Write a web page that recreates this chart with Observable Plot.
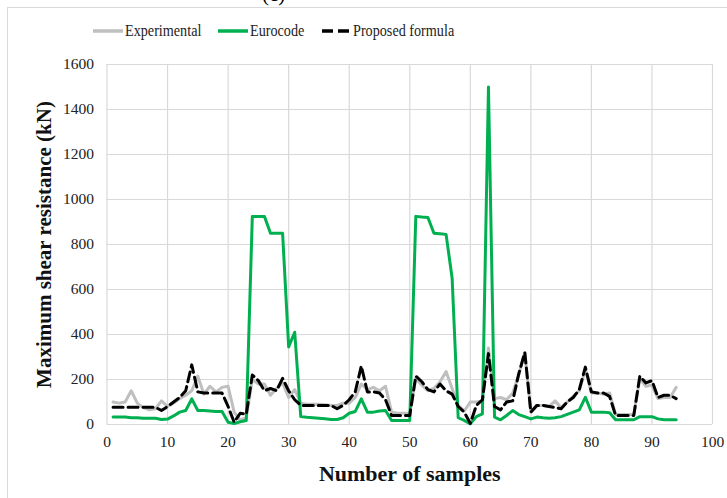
<!DOCTYPE html>
<html>
<head>
<meta charset="utf-8">
<script src="https://cdn.jsdelivr.net/npm/d3@7"></script>
<script src="https://cdn.jsdelivr.net/npm/@observablehq/plot@0.6"></script>
<style>
  html, body { margin: 0; padding: 0; background: #fff; }
  #wrap { position: relative; width: 727px; height: 498px; overflow: hidden; font-family: "Liberation Serif", "DejaVu Serif", serif; }
  #frame { position: absolute; left: 7px; top: 7px; width: 740px; height: 520px; border-left: 1px solid #d9d9d9; border-top: 1px solid #d9d9d9; }
  #tag { position: absolute; left: 262px; top: -16px; font-size: 21px; line-height: 21px; color: #000; }
  #legend { position: relative; height: 50px; }
  .sw { position: absolute; top: 29px; height: 4px; }
  .lt { position: absolute; top: 20px; height: 21px; line-height: 21px; font-size: 17.5px; color: #222; white-space: nowrap; transform: scaleX(0.81); transform-origin: left center; }
  #chart { position: relative; }
</style>
</head>
<body>
<div id="wrap">
  <div id="frame"></div>
  <div id="tag">(c)</div>
  <div id="legend"></div>
  <div id="chart"></div>
</div>
<script>
// Sample numbers (categories)
const samples = d3.range(1, 95);

const experimental = [100, 95, 100, 150, 95, 75, 65, 70, 105, 80,
  95, 115, 130, 150, 215, 135, 170, 145, 165, 170,
  55, 20, 30, 200, 180, 180, 130, 160, 185, 120,
  155, 95, 90, 90, 90, 88, 85, 85, 95, 95,
  120, 180, 155, 165, 150, 170, 55, 50, 50, 50,
  205, 175, 150, 160, 190, 235, 160, 85, 60, 100,
  100, 105, 340, 115, 120, 110, 140, 220, 320, 55,
  85, 85, 80, 105, 75, 100, 125, 150, 245, 140,
  140, 135, 140, 45, 45, 45, 45, 205, 170, 175,
  115, 120, 120, 165];

const eurocode = [33, 33, 33, 30, 30, 28, 28, 28, 22, 24,
  38, 55, 62, 114, 62, 62, 60, 58, 58, 10,
  4, 12, 18, 925, 925, 925, 850, 850, 850, 345,
  410, 35, 32, 30, 28, 26, 22, 22, 30, 50,
  58, 114, 55, 55, 60, 62, 18, 18, 18, 18,
  925, 922, 920, 850, 848, 845, 650, 30, 18, 3,
  35, 47, 1500, 33, 21, 40, 62, 44, 35, 25,
  33, 30, 28, 30, 35, 45, 55, 65, 121, 55,
  55, 55, 52, 21, 21, 21, 21, 35, 35, 35,
  25, 21, 21, 21];

const proposed = [77, 77, 77, 77, 77, 77, 77, 77, 62, 80,
  100, 120, 150, 265, 145, 140, 140, 140, 140, 80,
  10, 50, 45, 220, 195, 150, 160, 150, 205, 150,
  110, 85, 85, 85, 85, 85, 85, 70, 85, 110,
  145, 260, 145, 145, 140, 110, 40, 40, 40, 40,
  215, 190, 155, 145, 180, 150, 135, 80, 55, 5,
  85, 110, 315, 80, 65, 100, 105, 225, 320, 55,
  85, 85, 80, 75, 70, 100, 120, 155, 255, 145,
  140, 140, 125, 40, 40, 40, 40, 215, 185, 195,
  120, 130, 130, 115];

const xTicks = [0, 10, 20, 30, 40, 50, 60, 70, 80, 90, 100];
const yTicks = [0, 200, 400, 600, 800, 1000, 1200, 1400, 1600];

const seriesNames = ["Experimental", "Eurocode", "Proposed formula"];
const seriesColors = ["#bfbfbf", "#00b050", "#000000"];

const rows = (vals) => samples.map((s, i) => ({sample: s, value: vals[i]}));

// Legend (HTML, above the SVG)
const legend = document.getElementById("legend");
const swX = [93, 218, 322];
const swW = [30, 30, 27];
const txX = [125, 250, 353];
seriesNames.forEach((name, k) => {
  const sw = document.createElement("div");
  sw.className = "sw";
  sw.style.left = swX[k] + "px";
  sw.style.width = swW[k] + "px";
  sw.innerHTML = `<svg width="${swW[k]}" height="4" style="display:block"><line x1="0" y1="2" x2="${swW[k]}" y2="2" stroke="${seriesColors[k]}" stroke-width="3.5" ${k === 2 ? 'stroke-dasharray="11,5"' : ''}/></svg>`;
  legend.appendChild(sw);
  const tx = document.createElement("div");
  tx.className = "lt";
  tx.style.left = txX[k] + "px";
  tx.textContent = name;
  legend.appendChild(tx);
});

const chart = Plot.plot({
  width: 727,
  height: 448,
  marginLeft: 106.5,
  marginRight: 15,
  marginTop: 14,
  marginBottom: 74,
  style: {fontFamily: "'Liberation Serif', serif", fontSize: "15px", color: "#222", background: "transparent"},
  x: {domain: [0, 100], ticks: xTicks},
  y: {domain: [0, 1600], ticks: yTicks},
  marks: [
    Plot.gridX(xTicks, {stroke: "#d9d9d9", strokeOpacity: 1, strokeWidth: 1.2}),
    Plot.gridY(yTicks, {stroke: "#d9d9d9", strokeOpacity: 1, strokeWidth: 1.2}),
    Plot.axisX(xTicks, {tickSize: 0, tickPadding: 11, fontSize: 15.5, label: null, tickFormat: d3.format("d")}),
    Plot.axisY(yTicks, {tickSize: 0, tickPadding: 13, fontSize: 15.5, label: null, tickFormat: d3.format("d")}),
    Plot.text(["Number of samples"], {frameAnchor: "bottom", dy: 49, fontSize: 22, fontWeight: "bold", fill: "#111", textAnchor: "middle", lineAnchor: "middle"}),
    Plot.text(["Maximum shear resistance (kN)"], {frameAnchor: "left", dx: -63, rotate: -90, fontSize: 21, fontWeight: "bold", fill: "#111", textAnchor: "middle", lineAnchor: "middle"}),
    Plot.lineY(rows(experimental), {x: "sample", y: "value", stroke: seriesColors[0], strokeWidth: 3}),
    Plot.lineY(rows(eurocode), {x: "sample", y: "value", stroke: seriesColors[1], strokeWidth: 3}),
    Plot.lineY(rows(proposed), {x: "sample", y: "value", stroke: seriesColors[2], strokeWidth: 3, strokeDasharray: "10,5"})
  ]
});
document.getElementById("chart").appendChild(chart);
</script>
</body>
</html>
